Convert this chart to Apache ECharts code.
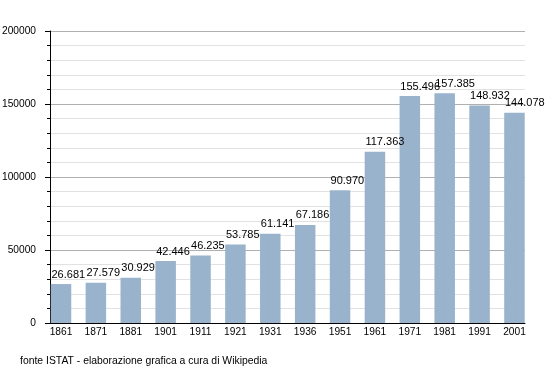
<!DOCTYPE html>
<html><head><meta charset="utf-8">
<script src="https://cdn.jsdelivr.net/npm/echarts@6/dist/echarts.min.js"></script>
<style>html,body{margin:0;padding:0;background:#fff}#c{width:555px;height:373px}</style>
</head><body><div id="c"></div>
<script>
const years = ['1861','1871','1881','1901','1911','1921','1931','1936','1951','1961','1971','1981','1991','2001'];
const population = [26681, 27579, 30929, 42446, 46235, 53785, 61141, 67186, 90970, 117363, 155496, 157385, 148932, 144078];
const yTicks = [0, 50000, 100000, 150000, 200000];
const footer = 'fonte ISTAT - elaborazione grafica a cura di Wikipedia';

function fmt(v){ return String(v).replace(/\B(?=(\d{3})+(?!\d))/g, '.'); }
const FONT = 'Liberation Sans';
const chart = echarts.init(document.getElementById('c'), null, {renderer:'canvas'});
chart.setOption({
  animation: false,
  textStyle: {fontFamily: FONT},
  graphic: [{type:'text', left: 20, top: 356, style:{text: footer, font: '10.4px "Liberation Sans"', fill:'#000'}}],
  grid: [
    {left: 50, right: 30, top: 31, bottom: 50, containLabel:false, outerBoundsMode:'none'},
    {left: 43.56, right: 23.1, top: 31, bottom: 50, containLabel:false, outerBoundsMode:'none'}
  ],
  xAxis: [
    {gridIndex:0, type:'value', min:0, max:1, axisLine:{show:true, lineStyle:{color:'#000', width:1}}, axisTick:{show:false}, axisLabel:{show:false}, splitLine:{show:false}},
    {gridIndex:1, type:'category', data: years, axisLine:{show:false}, axisTick:{show:false},
     axisLabel:{color:'#000', fontSize:10.2, fontFamily:FONT, margin:4, interval:0}}
  ],
  yAxis: [
    {gridIndex:0, type:'value', min:0, max:200000, interval:50000,
     axisLine:{show:true, lineStyle:{color:'#000', width:1}},
     axisTick:{show:true, inside:false, length:5, lineStyle:{color:'#000'}},
     minorTick:{show:true, splitNumber:5, length:3, lineStyle:{color:'#000'}},
     axisLabel:{color:'#000', fontSize:10.2, fontFamily:FONT, margin:14, formatter: v => String(v)},
     splitLine:{show:true, lineStyle:{color:'#b0b0b0', width:1}},
     minorSplitLine:{show:true, lineStyle:{color:'#e2e2e2', width:1}}},
    {gridIndex:1, type:'value', min:0, max:200000, show:false, splitLine:{show:false}}
  ],
  series: [{
    type:'bar', xAxisIndex:1, yAxisIndex:1, data: population, barWidth: 20.5,
    itemStyle:{color:'#99b3cc'},
    label:{show:true, position:'top', align:'left', offset:[-9.5, 0], distance:4, color:'#000', fontSize:11, fontFamily:FONT,
      formatter: p => fmt(p.value)}
  }]
});
</script></body></html>
